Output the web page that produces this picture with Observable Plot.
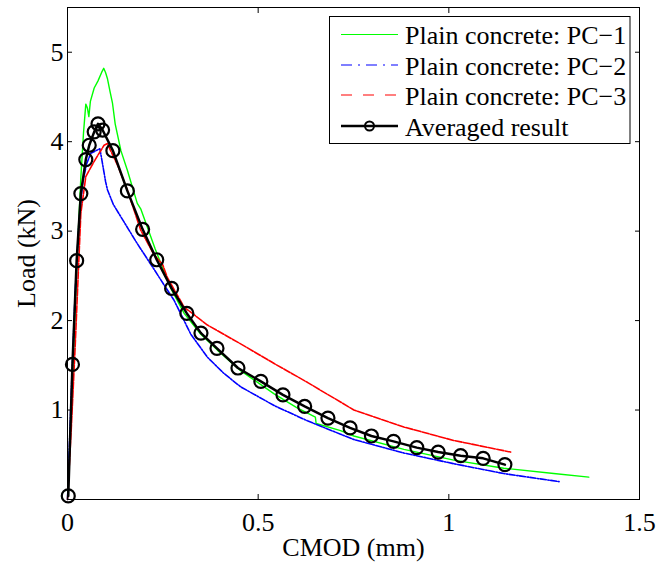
<!DOCTYPE html>
<html>
<head>
<meta charset="utf-8">
<script src="https://cdn.jsdelivr.net/npm/d3@7"></script>
<script src="https://cdn.jsdelivr.net/npm/@observablehq/plot@0.6"></script>
<style>
  html, body { margin: 0; padding: 0; background: #fff; }
  #chart { width: 672px; height: 562px; }
  #chart svg { display: block; }
</style>
</head>
<body>
<div id="chart"></div>
<script>
// ---- Data ----
const seriesNames = ["Plain concrete: PC\u22121", "Plain concrete: PC\u22122", "Plain concrete: PC\u22123", "Averaged result"];
const seriesColors = ["#00ff00", "#0000ff", "#ff0000", "#000000"];

const pc1X = [0, 0.005, 0.015, 0.025, 0.035, 0.042, 0.048, 0.052, 0.056, 0.06, 0.07, 0.08, 0.09, 0.095, 0.1, 0.105, 0.112, 0.118, 0.125, 0.14, 0.157, 0.183, 0.192, 0.23, 0.271, 0.306, 0.349, 0.393, 0.454, 0.542, 0.6, 0.65, 0.652, 0.716, 0.751, 0.882, 1.013, 1.144, 1.275, 1.367];
const pc1Y = [0, 0.5, 1.6, 2.7, 3.6, 4.1, 4.42, 4.38, 4.28, 4.45, 4.6, 4.68, 4.78, 4.82, 4.77, 4.7, 4.55, 4.43, 4.2, 3.9, 3.68, 3.31, 3.25, 2.8, 2.36, 2.08, 1.85, 1.67, 1.44, 1.18, 1.03, 0.92, 0.85, 0.77, 0.71, 0.56, 0.44, 0.35, 0.29, 0.25];

const pc2X = [0, 0.01, 0.02, 0.03, 0.04, 0.05, 0.061, 0.075, 0.085, 0.092, 0.1, 0.105, 0.12, 0.14, 0.16, 0.183, 0.2, 0.223, 0.25, 0.279, 0.3, 0.323, 0.367, 0.41, 0.454, 0.542, 0.629, 0.716, 0.751, 0.882, 1.013, 1.144, 1.289];
const pc2Y = [0, 1.2, 2.3, 3.1, 3.55, 3.75, 3.87, 3.9, 3.92, 3.75, 3.55, 3.46, 3.3, 3.16, 3.02, 2.86, 2.75, 2.6, 2.42, 2.23, 2.05, 1.85, 1.59, 1.41, 1.26, 1.05, 0.88, 0.73, 0.67, 0.52, 0.4, 0.29, 0.2];

const pc3X = [0, 0.01, 0.02, 0.028, 0.035, 0.048, 0.066, 0.08, 0.096, 0.105, 0.113, 0.13, 0.157, 0.192, 0.225, 0.25, 0.262, 0.306, 0.367, 0.454, 0.542, 0.629, 0.664, 0.716, 0.751, 0.882, 1.013, 1.162];
const pc3Y = [0, 0.8, 1.7, 2.5, 3.2, 3.61, 3.75, 3.85, 3.96, 3.98, 3.9, 3.75, 3.46, 3.01, 2.75, 2.62, 2.48, 2.15, 1.95, 1.74, 1.52, 1.31, 1.22, 1.09, 1.0, 0.81, 0.66, 0.53];

const avgX = [0.002, 0.013, 0.024, 0.035, 0.048, 0.057, 0.07, 0.08, 0.092, 0.119, 0.157, 0.197, 0.234, 0.273, 0.313, 0.35, 0.392, 0.447, 0.507, 0.565, 0.622, 0.683, 0.741, 0.797, 0.855, 0.916, 0.972, 1.031, 1.09, 1.147];
const avgY = [0.04, 1.51, 2.67, 3.42, 3.8, 3.96, 4.11, 4.2, 4.13, 3.9, 3.45, 3.02, 2.68, 2.36, 2.08, 1.86, 1.69, 1.47, 1.32, 1.17, 1.04, 0.91, 0.8, 0.71, 0.65, 0.58, 0.53, 0.49, 0.46, 0.39];

const xTicks = [0, 0.5, 1, 1.5];
const xTickLabels = ["0", "0.5", "1", "1.5"];
const yTicks = [1, 2, 3, 4, 5];
const yTickLabels = ["1", "2", "3", "4", "5"];
const xLabel = "CMOD (mm)";
const yLabel = "Load (kN)";

// ---- Build rows ----
const rows = (xs, ys) => xs.map((x, i) => ({x, y: ys[i]}));
const pc1 = rows(pc1X, pc1Y);
const pc2 = rows(pc2X, pc2Y);
const pc3 = rows(pc3X, pc3Y);
const avg = rows(avgX, avgY);

const FONT = "Liberation Serif, Times New Roman, Times, serif";
const FS = 26;

const plot = Plot.plot({
  width: 672,
  height: 562,
  marginLeft: 67,
  marginRight: 33,
  marginTop: 7,
  marginBottom: 63,
  style: {fontFamily: FONT, fontSize: FS + "px", background: "#fff", color: "#000", overflow: "visible"},
  x: {domain: [0, 1.5]},
  y: {domain: [0, 5.5]},
  marks: [
    Plot.line(pc1, {x: "x", y: "y", stroke: seriesColors[0], strokeWidth: 1.4}),
    Plot.line(pc2, {x: "x", y: "y", stroke: seriesColors[1], strokeWidth: 1.6, strokeDasharray: "6,1.5,1.5,1.5"}),
    Plot.line(pc3, {x: "x", y: "y", stroke: seriesColors[2], strokeWidth: 1.6, strokeDasharray: "7,1.5"}),
    Plot.line(avg, {x: "x", y: "y", stroke: seriesColors[3], strokeWidth: 2.5}),
    Plot.dot(avg, {x: "x", y: "y", r: 6.5, stroke: seriesColors[3], strokeWidth: 2.2, fill: "none"}),
    Plot.frame({stroke: "#000", strokeWidth: 1}),
    Plot.axisX({anchor: "bottom", ticks: xTicks, tickFormat: d => xTickLabels[xTicks.indexOf(d)], tickSize: -5, tickPadding: 18, label: null}),
    Plot.axisX({anchor: "top", ticks: xTicks, tickFormat: () => "", tickSize: -5, label: null}),
    Plot.axisY({anchor: "left", ticks: yTicks, tickFormat: d => yTickLabels[yTicks.indexOf(d)], tickSize: -5, tickPadding: 9, label: null}),
    Plot.axisY({anchor: "right", ticks: yTicks, tickFormat: () => "", tickSize: -5, label: null}),
    Plot.text([xLabel], {frameAnchor: "bottom", dy: 48, lineAnchor: "middle", text: d => d, fontSize: FS, fill: "#000"}),
    Plot.text([yLabel], {frameAnchor: "left", dx: -41, rotate: -90, lineAnchor: "middle", textAnchor: "middle", text: d => d, fontSize: FS, fill: "#000"})
  ]
});

document.getElementById("chart").appendChild(plot);

// ---- Legend (drawn inside the SVG) ----
const svg = d3.select(plot);
const lg = svg.append("g").attr("font-family", FONT).attr("font-size", FS + "px").attr("text-anchor", "start");
const box = {x: 329.5, y: 16.5, w: 300.5, h: 127};
lg.append("rect").attr("x", box.x).attr("y", box.y).attr("width", box.w).attr("height", box.h)
  .attr("fill", "#fff").attr("stroke", "#000").attr("stroke-width", 1);
const rowY = [34.5, 65, 95, 126];
const legendDash = [null, "11,6,2,6", "11,11", null];
seriesNames.forEach((name, i) => {
  const y = rowY[i];
  lg.append("line").attr("x1", 341).attr("x2", 398).attr("y1", y).attr("y2", y)
    .attr("stroke", seriesColors[i]).attr("stroke-width", i === 3 ? 2.5 : 1.2)
    .attr("stroke-dasharray", legendDash[i]);
  if (i === 3) {
    lg.append("circle").attr("cx", 369.5).attr("cy", y).attr("r", 4.5)
      .attr("fill", "none").attr("stroke", "#000").attr("stroke-width", 2);
  }
  lg.append("text").attr("x", 405).attr("y", y + 9.5).attr("text-anchor", "start").attr("fill", "#000").text(name);
});
</script>
</body>
</html>
